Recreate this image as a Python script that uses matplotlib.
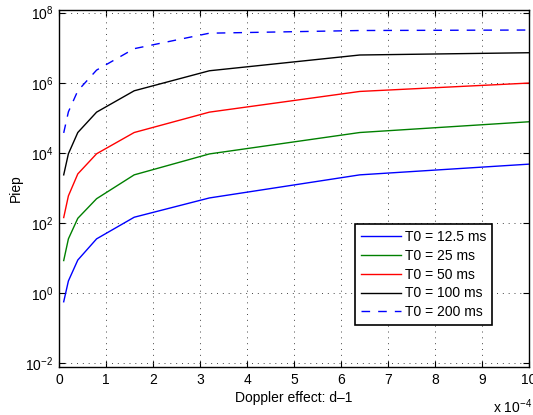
import matplotlib
matplotlib.use("Agg")
import matplotlib.pyplot as plt
from matplotlib.ticker import FixedLocator, FuncFormatter, NullLocator

plt.rcParams['font.family'] = ['Liberation Sans', 'DejaVu Sans']
plt.rcParams['mathtext.fontset'] = 'custom'
plt.rcParams['mathtext.rm'] = 'Liberation Sans'
plt.rcParams['mathtext.it'] = 'Liberation Sans:italic'
plt.rcParams['font.size'] = 10

# Doppler effect d-1 (units of 1e-4)
doppler = [0.1, 0.2, 0.4, 0.8, 1.6, 3.2, 6.4, 10.0]
piep_12_5 = [0.56, 2.2, 8.7, 35, 145, 515, 2350, 4750]
piep_25 = [8.4, 35, 135, 490, 2350, 9300, 38000, 77000]
piep_50 = [142, 590, 2500, 9400, 38000, 145000, 565000, 980000]
piep_100 = [2350, 9400, 38000, 145000, 590000, 2.2e6, 6.2e6, 7.2e6]
piep_200 = [37000, 148000, 590000, 2.3e6, 9.4e6, 2.6e7, 3.1e7, 3.2e7]
labels = ['T0 = 12.5 ms', 'T0 = 25 ms', 'T0 = 50 ms', 'T0 = 100 ms', 'T0 = 200 ms']
x_ticks = [0, 1, 2, 3, 4, 5, 6, 7, 8, 9, 10]
y_ticks = [1e-2, 1e0, 1e2, 1e4, 1e6, 1e8]

fig = plt.figure(figsize=(5.33, 4.15), dpi=100)
ax = fig.add_axes([59/533, (415-367)/415, 470/533, 357/415])

xs = [v * 1e-4 for v in doppler]
ax.plot(xs, piep_12_5, color=(0, 0, 1), lw=1.0, label=labels[0])
ax.plot(xs, piep_25, color=(0, 0.5, 0), lw=1.0, label=labels[1])
ax.plot(xs, piep_50, color=(1, 0, 0), lw=1.0, label=labels[2])
ax.plot(xs, piep_100, color='black', lw=1.0, label=labels[3])
ax.plot(xs, piep_200, color=(0, 0, 1), lw=1.0, dashes=(6.2, 5.8), label=labels[4])

ax.set_yscale('log')
ax.set_xlim(0, 10e-4)
ax.set_ylim(10**-2.114, 10**8.077)

ax.xaxis.set_major_locator(FixedLocator([t * 1e-4 for t in x_ticks]))
ax.xaxis.set_major_formatter(FuncFormatter(lambda v, p: '%d' % round(v * 1e4)))
ax.yaxis.set_major_locator(FixedLocator(y_ticks))
ax.yaxis.set_minor_locator(NullLocator())
ax.xaxis.set_minor_locator(NullLocator())

ax.grid(True, which='major', linestyle=(0, (1, 5)), color='#444444', lw=0.7)
ax.tick_params(direction='in', length=4, width=0.8, top=True, right=True, pad=4)
for s in ax.spines.values():
    s.set_linewidth(1.0)

ax.set_xlabel('Doppler effect: d\u20131', labelpad=3)
ax.set_ylabel('Piep', labelpad=2)

ax.text((532 - 59) / 470, -0.085, r'x 10$^{-4}$', transform=ax.transAxes, ha='right', va='top')

leg = ax.legend(loc='lower left', bbox_to_anchor=(0.63, 0.118), fancybox=False,
                edgecolor='black', framealpha=1, handlelength=2.9, labelspacing=0.35,
                borderpad=0.4, handletextpad=0.3, borderaxespad=0)
leg.get_frame().set_linewidth(1.2)

fig.savefig('out.png', dpi=100)
